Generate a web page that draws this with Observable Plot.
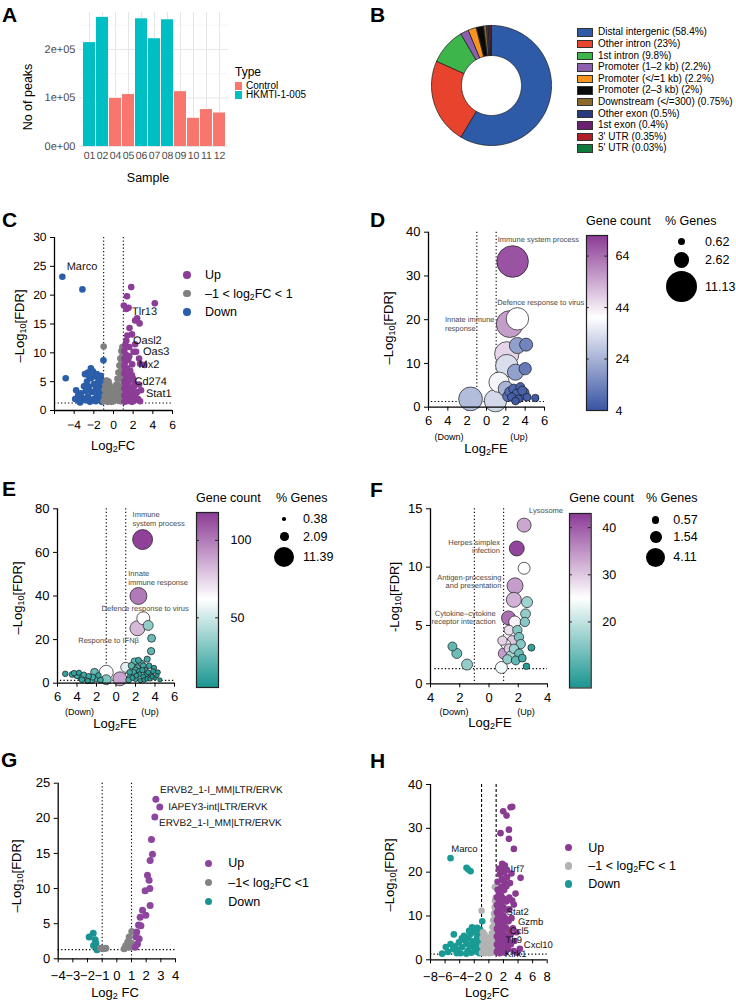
<!DOCTYPE html>
<html><head><meta charset="utf-8">
<script src="https://cdn.jsdelivr.net/npm/d3@7"></script>
<script src="https://cdn.jsdelivr.net/npm/@observablehq/plot@0.6"></script>
<style>body{margin:0;background:#fff}#root{position:relative;width:736px;height:1003px;overflow:hidden;background:#fff;font-family:'Liberation Sans',Arial,Helvetica,sans-serif}svg text{text-rendering:geometricPrecision}</style>
</head><body><div id="root"></div>
<script>
// ---------- DATA ----------
const sampleIds = ["01","02","04","05","06","07","08","09","10","11","12"];
const samplePeaks = [214000,266000,99000,107000,263000,222000,261000,113000,58000,76000,69000];
const sampleType = ["HKMTI-1-005","HKMTI-1-005","Control","Control","HKMTI-1-005","HKMTI-1-005","HKMTI-1-005","Control","Control","Control","Control"];
const typeNames = ["Control","HKMTI-1-005"];
const typeColors = ["#F8766D","#00BFC4"];
const peakTicks = [0,100000,200000];

const featureNames = ["Distal intergenic (58.4%)","Other intron (23%)","1st intron (9.8%)","Promoter (1–2 kb) (2.2%)","Promoter (</=1 kb) (2.2%)","Promoter (2–3 kb) (2%)","Downstream (</=300) (0.75%)","Other exon (0.5%)","1st exon (0.4%)","3' UTR (0.35%)","5' UTR (0.03%)"];
const featurePct = [58.4,23,9.8,2.2,2.2,2,0.75,0.5,0.4,0.35,0.03];
const featureColors = ["#2d5ba8","#e8432d","#3db54a","#8d5fb0","#f7941d","#0a0a0a","#8b6a2b","#283a80","#6b2070","#b01f25","#0f7a3b"];

// C volcano [log2FC, -log10FDR]
const cDown = [[-5.2,23.2],[-3.16,21.0],[-4.86,5.6],[-1.02,8.7],[-3.9,2.0],[-3.8,3.5],[-3.6,2.6],[-3.5,1.6],[-3.3,3.0],[-3.2,2.2],[-3.0,4.2],[-2.9,6.3],[-2.9,1.8],[-2.8,3.4],[-2.7,5.0],[-2.6,6.6],[-2.6,2.4],[-2.5,4.1],[-2.4,1.5],[-2.3,7.3],[-2.3,5.6],[-2.2,3.2],[-2.1,6.8],[-2.0,2.0],[-2.0,4.6],[-1.9,5.9],[-1.8,3.7],[-1.8,1.6],[-1.7,6.3],[-1.7,2.6],[-1.6,4.8],[-1.5,3.1],[-1.5,5.5],[-1.4,1.9],[-1.4,4.1],[-1.3,6.0],[-1.3,2.8],[-1.2,3.5],[-1.2,1.5],[-1.1,5.1],[-1.1,2.3],[-3.4,1.4],[-2.5,6.0]];
const cMid = [[-1.0,11.1],[-1.0,1.6],[-0.9,2.5],[-0.9,3.6],[-0.8,1.8],[-0.8,4.4],[-0.7,2.9],[-0.7,5.2],[-0.6,1.5],[-0.6,3.8],[-0.5,5.0],[-0.5,2.2],[-0.4,4.4],[-0.4,1.7],[-0.3,3.4],[-0.3,2.6],[-0.2,1.5],[-0.2,3.9],[-0.1,2.9],[-0.1,2.0],[0,3.3],[0,1.6],[0.1,2.4],[0.1,4.0],[0.2,1.8],[0.2,3.0],[0.3,4.5],[0.3,2.2],[0.4,5.5],[0.4,3.3],[0.5,6.6],[0.5,2.0],[0.5,4.4],[0.6,7.8],[0.6,5.6],[0.6,3.1],[0.7,9.0],[0.7,6.8],[0.7,4.2],[0.7,1.6],[0.8,10.3],[0.8,8.2],[0.8,5.5],[0.8,2.7],[0.9,11.0],[0.9,9.4],[0.9,7.0],[0.9,4.0],[0.9,1.9],[1.0,10.6],[1.0,8.6],[1.0,6.2],[1.0,3.3]];
const cUp = [[1.8,21.4],[4.2,18.6],[1.37,19.8],[1.05,18.2],[1.53,17.8],[1.3,17.6],[2.4,16.0],[2.2,15.6],[2.65,15.1],[1.63,14.3],[1.88,13.2],[1.3,12.1],[1.2,11.3],[2.04,10.2],[2.3,10.2],[2.7,8.1],[3.13,7.9],[1.88,6.1],[2.2,4.6],[2.4,3.2],[1.1,1.5],[1.1,2.6],[1.1,3.8],[1.1,5.0],[1.1,6.4],[1.1,7.7],[1.1,9.0],[1.1,10.3],[1.2,2.0],[1.2,4.3],[1.2,6.9],[1.2,8.4],[1.3,1.6],[1.3,3.2],[1.3,5.6],[1.3,9.6],[1.4,2.5],[1.4,4.6],[1.4,7.3],[1.5,1.8],[1.5,3.7],[1.5,6.0],[1.5,8.8],[1.6,2.8],[1.6,5.1],[1.7,1.6],[1.7,4.0],[1.7,6.9],[1.8,2.3],[1.9,3.3],[1.9,1.5],[2.0,5.5],[2.0,2.6],[2.1,4.2],[2.2,1.8],[2.3,3.0],[2.5,2.0],[2.6,4.5],[2.8,3.5],[2.7,1.6],[2.6,9.0],[2.2,11.5],[1.6,11.0],[1.4,13.0],[1.9,8.0],[1.6,9.4]];
const cGenes = [[-4.76,25.0,"Marco"],[1.88,17.2,"Tlr13"],[1.98,12.1,"Oasl2"],[3.0,10.3,"Oas3"],[2.55,7.9,"Mx2"],[2.14,5.1,"Cd274"],[3.3,2.9,"Stat1"]];

// D/E/F bubbles [log2FE, -log10FDR, gene count, % genes]
const dBubbles = [[2.7,33.3,68,11.13],[3.2,20.2,40,5.6],[2.4,19.0,56,8.0],[3.2,14.1,20,2.9],[4.1,14.3,14,1.9],[2.1,12.2,47,6.6],[2.1,9.5,33,5.6],[3.0,8.0,20,2.9],[4.0,8.8,12,1.7],[1.3,5.7,38,4.6],[2.0,4.2,24,2.6],[-1.65,1.9,26,6.3],[0.93,1.5,32,5.6],[2.8,4.2,8,1.0],[3.5,4.6,7,0.9],[3.1,3.1,7,0.9],[3.9,3.4,8,1.0],[2.6,2.3,6,0.8],[3.3,1.9,6,0.7],[4.2,2.3,6,0.7],[3.7,3.8,7,0.9],[3.0,1.4,5,0.65],[2.4,3.5,9,1.1],[5.05,2.1,5,0.62],[2.2,2.5,10,1.2],[3.6,2.6,8,1.0]];
const dTerms = [[1.16,38.3,"Immune system process","start"],[1.1,24.0,"Defence response to virus","start"],[-4.3,20.0,"Innate immune","start"],[-4.3,17.9,"response","start"]];
const eBubbles = [[2.73,65.9,116,11.39],[2.3,40,100,8.2],[2.8,29.8,62,4.8],[2.2,25.2,82,6.4],[3.3,26.5,35,2.85],[3.65,20.6,25,1.8],[3.6,14.7,22,1.55],[-1.0,5.0,62,5.6],[-1.0,1.6,30,2.85],[0.4,2.0,88,5.6],[-2.2,5.0,25,1.8],[1.0,7.3,55,2.85],[-5.2,4.3,12,0.9],[-4.5,4.0,14,1.0],[-4.3,4.6,12,0.9],[-4.0,3.5,15,1.1],[-3.8,4.8,10,0.8],[-3.6,2.6,18,1.2],[-3.5,1.6,12,0.9],[-3.3,3.8,14,1.0],[-3.0,2.0,16,1.1],[-2.8,3.2,12,0.9],[-2.9,1.0,10,0.8],[-2.5,1.5,20,1.4],[-2.4,2.8,15,1.1],[-2.0,2.2,18,1.2],[-1.8,3.6,12,0.9],[-1.6,1.5,14,1.0],[1.3,1.5,15,1.0],[1.5,3.0,18,1.2],[1.4,5.0,12,0.9],[1.6,8.0,20,1.3],[1.7,2.5,10,0.8],[1.8,5.0,14,1.0],[1.9,10.0,22,1.4],[2.0,2.0,12,0.9],[2.0,6.0,16,1.1],[2.1,3.5,9,0.7],[2.2,7.0,18,1.2],[2.3,10.5,14,1.0],[2.4,4.0,10,0.8],[2.4,5.5,13,0.9],[2.5,1.2,8,0.6],[2.6,9.0,20,1.3],[2.7,6.0,11,0.8],[2.8,3.0,9,0.7],[2.8,8.0,15,1.0],[2.9,1.5,7,0.6],[3.0,6.0,12,0.9],[3.1,4.0,10,0.8],[3.2,2.0,8,0.6],[3.2,11.0,16,1.1],[3.3,5.0,9,0.7],[3.4,8.0,12,0.9],[3.5,2.0,8,0.6],[3.6,4.0,10,0.8],[3.7,3.0,7,0.55],[3.8,5.5,9,0.7],[3.9,7.0,11,0.8],[4.0,2.5,8,0.6],[4.2,3.5,7,0.55],[4.3,5.0,9,0.7],[4.5,1.5,6,0.5]];
const eTerms = [[1.7,77.4,"Immune","start"],[1.7,73.1,"system process","start"],[1.26,50.2,"Innate","start"],[1.26,46.3,"immune response","start"],[-1.48,34.1,"Defence response to virus","start"],[-3.87,19.6,"Response to IFNβ","start"]];
const fBubbles = [[2.4,13.6,33,2.23],[1.9,11.6,42,2.56],[2.4,9.9,25,1.64],[1.78,8.4,34,2.9],[2.6,7.0,17,1.38],[1.7,7.2,32,2.56],[2.5,6.0,16,1.1],[2.45,5.3,15,1.0],[1.33,5.65,38,2.23],[1.76,5.3,26,1.64],[-2.5,3.2,12,0.92],[-2.2,2.6,13,1.14],[-1.5,1.65,16,1.38],[2.9,3.1,8,0.56],[1.94,4.6,15,1.0],[2.05,4.0,14,1.0],[1.37,4.6,28,1.1],[1.6,3.7,30,1.2],[1.14,3.4,25,1.1],[0.92,3.7,29,1.0],[2.17,3.4,15,1.0],[1.71,3.0,17,1.0],[1.37,3.0,30,1.1],[1.03,2.6,34,1.5],[1.49,2.4,18,1.1],[2.05,2.6,13,0.9],[1.26,2.1,16,1.0],[1.83,2.0,12,0.9],[2.28,2.2,10,0.7],[0.85,1.4,24,1.64],[2.56,1.5,7,0.5]];
const fTerms = [[2.74,14.85,"Lysosome","start"],[0.75,12.1,"Herpes simplex","end"],[0.75,11.4,"infection","end"],[0.85,9.1,"Antigen-processing","end"],[0.85,8.4,"and presentation","end"],[0.46,6.05,"Cytokine–cytokine","end"],[0.46,5.3,"receptor interaction","end"]];

// G volcano
const gUp = [[2.66,22.7],[2.93,21.6],[2.59,20.2],[2.36,17.0],[2.43,14.9],[2.27,14.0],[2.09,11.9],[2.2,11.2],[1.93,9.7],[2.25,10.0],[2.27,7.6],[1.75,6.9],[1.98,6.2],[1.59,5.9],[1.48,4.8],[1.64,4.7],[1.36,3.8],[1.3,3.1],[1.52,2.85],[1.41,2.1],[1.25,1.65]];
const gMid = [[1.02,3.9],[0.84,3.1],[0.74,2.4],[0.61,1.9],[0.84,1.65],[1.0,2.2],[0.5,1.42],[-0.91,1.42],[-0.75,1.5],[-1.1,1.5]];
const gDown = [[-1.61,3.65],[-1.89,3.1],[-1.48,2.7],[-1.59,1.9],[-1.36,1.3],[-1.43,2.2]];
const gGenes = [[2.95,24.0,"ERVB2_1-I_MM|LTR/ERVK"],[3.5,21.6,"IAPEY3-int|LTR/ERVK"],[2.88,19.3,"ERVB2_1-I_MM|LTR/ERVK"]];

// H volcano
const hDown = [[-5.25,23.2],[-3.06,21.0],[-2.83,20.6],[-2.5,20.2],[-4.8,5.8],[-0.9,8.8],[-6.4,1.4],[-5.9,2.9],[-5.6,1.8],[-5.25,3.6],[-4.9,2.4],[-4.6,3.1],[-4.3,2.2],[-4.1,4.0],[-3.9,1.5],[-3.65,2.9],[-3.5,4.6],[-3.4,5.5],[-3.2,4.3],[-3.0,3.6],[-2.9,2.0],[-2.8,5.0],[-2.6,3.1],[-2.5,5.9],[-2.4,1.6],[-2.3,7.4],[-2.2,4.2],[-2.1,2.9],[-2.0,6.4],[-1.9,3.8],[-1.8,7.1],[-1.7,1.9],[-1.6,5.2],[-1.5,3.0],[-1.4,6.2],[-1.3,1.5],[-1.3,4.4],[-1.2,2.4],[-1.1,5.6],[-1.1,3.3],[-1.0,1.7],[-4.4,1.5],[-3.1,1.4],[-2.7,6.6],[-1.6,7.3],[-1.2,6.9],[-3.7,4.9]];
const hMid = [[-1.0,11.2],[0.82,16.6],[-0.95,1.6],[-0.9,3.2],[-0.85,5.0],[-0.8,6.3],[-0.7,2.2],[-0.65,4.3],[-0.6,5.8],[-0.5,1.5],[-0.5,3.4],[-0.4,2.6],[-0.35,5.1],[-0.3,4.0],[-0.2,1.8],[-0.15,3.0],[-0.1,4.6],[0,2.2],[0,3.8],[0.1,1.5],[0.15,5.0],[0.2,3.0],[0.3,2.0],[0.3,4.2],[0.4,6.0],[0.45,3.4],[0.5,7.5],[0.5,1.6],[0.55,5.0],[0.6,9.0],[0.6,2.6],[0.65,6.4],[0.7,10.5],[0.7,4.0],[0.75,8.0],[0.8,12.0],[0.8,2.0],[0.8,5.6],[0.85,13.5],[0.85,9.6],[0.9,11.0],[0.9,7.0],[0.9,3.2],[0.95,14.2],[0.95,4.8],[1.0,12.5],[1.0,8.4],[1.0,1.9]];
const hUp = [[2.98,34.8],[3.2,34.9],[1.97,33.9],[2.43,32.9],[1.6,28.9],[2.75,29.7],[2.75,27.6],[3.43,25.3],[1.83,21.9],[4.35,18.7],[3.66,15.1],[3.43,12.6],[4.25,2.5],[1.1,1.8],[1.1,3.5],[1.1,5.3],[1.1,7.1],[1.1,9.0],[1.1,10.8],[1.1,12.5],[1.1,14.2],[1.2,16.0],[1.2,17.8],[1.3,2.6],[1.3,4.4],[1.3,6.2],[1.3,8.1],[1.3,9.9],[1.3,11.7],[1.4,13.4],[1.4,15.2],[1.5,19.5],[1.5,1.5],[1.5,3.4],[1.6,5.3],[1.6,7.2],[1.6,9.1],[1.6,11.0],[1.7,12.8],[1.7,14.6],[1.7,16.6],[1.8,18.4],[1.8,20.4],[1.8,2.4],[1.9,4.3],[1.9,6.3],[2.0,8.2],[2.0,10.1],[2.0,12.0],[2.0,14.0],[2.1,15.9],[2.1,17.8],[2.1,19.9],[2.2,1.6],[2.2,3.5],[2.3,5.4],[2.3,7.4],[2.3,9.4],[2.4,11.4],[2.4,13.3],[2.4,16.8],[2.5,20.5],[2.5,18.8],[2.6,2.5],[2.6,4.6],[2.7,6.8],[2.7,8.8],[2.8,11.5],[2.8,14.2],[2.9,17.5],[3.0,3.5],[3.0,5.8],[3.1,9.5],[3.1,19.7],[3.3,7.2],[3.4,2.0],[3.5,4.3],[3.8,6.3],[3.9,1.6],[3.2,13.5],[1.4,20.8],[2.2,21.5]];
const hGenes = [[-5.16,25.3,"Marco"],[2.98,20.8,"Irf7"],[2.43,11.0,"Stat2"],[3.98,8.7,"Gzmb"],[2.88,6.6,"Ccl5"],[2.29,4.5,"Tlr9"],[4.8,3.3,"Cxcl10"],[2.19,1.4,"Klrk1"]];

// ---------- HELPERS ----------
const FONT = "'Liberation Sans', Arial, Helvetica, sans-serif";
const root = document.getElementById("root");
function place(node, left, top) {
  const w = document.createElement("div");
  w.style.cssText = `position:absolute;left:${left}px;top:${top}px;`;
  node.style.overflow = "visible";
  w.appendChild(node); root.appendChild(w);
}
function T(x, y, html, o = {}) {
  const d = document.createElement("div");
  d.innerHTML = html;
  const a = o.anchor === "middle" ? "-50%" : o.anchor === "end" ? "-100%" : "0";
  let tr = `translate(${a},-50%)`;
  if (o.rotate) tr = "translate(-50%,-50%) rotate(-90deg)";
  d.style.cssText = `position:absolute;left:${x}px;top:${y}px;font-size:${o.size||12}px;font-weight:${o.bold?"bold":"normal"};color:${o.color||"#000"};white-space:nowrap;line-height:1;transform:${tr};transform-origin:${o.rotate?"50% 50%":"0 0"};`;
  root.appendChild(d);
}
function dotHTML(cx, cy, r, color) {
  const d = document.createElement("div");
  d.style.cssText = `position:absolute;left:${cx-r}px;top:${cy-r}px;width:${2*r}px;height:${2*r}px;border-radius:50%;background:${color};`;
  root.appendChild(d);
}
const sub = s => `<sub style="font-size:0.7em;vertical-align:-0.3em;line-height:0">${s}</sub>`;
const baseStyle = (fs) => ({fontFamily: FONT, fontSize: fs + "px", color: "#000", background: "transparent", overflow: "visible"});
const dotted = "1.3,2.2";

function volcano(c) {
  const svg = Plot.plot({
    width: c.w, height: c.h, marginLeft: c.ml, marginRight: c.mr, marginTop: c.mt, marginBottom: c.mb,
    style: baseStyle(c.fs),
    x: {domain: c.xDomain, ticks: c.xTicks, tickFormat: c.xFormat || (d => d < 0 ? "−" + Math.abs(d) : d), tickSize: 4, tickPadding: c.xPad, label: null},
    y: {domain: c.yDomain, ticks: c.yTicks, tickSize: 4, tickPadding: 4, label: null},
    marks: [
      Plot.ruleX([-1, 1], {stroke: "#000", strokeWidth: 1.1, strokeDasharray: c.vDash || dotted}),
      Plot.ruleY([1.3], {stroke: "#000", strokeWidth: 1.1, strokeDasharray: dotted}),
      ...c.groups.map(g => Plot.dot(g.data, {x: d => d[0], y: d => d[1], r: c.r, fill: g.color})),
      Plot.text(c.labels, {x: d => d[0], y: d => d[1], text: d => d[2], textAnchor: "start", fontSize: c.labelSize, fill: "#111"}),
      Plot.ruleX([c.xDomain[0]], {stroke: "#000", strokeWidth: 1.3}),
      Plot.ruleY([c.yDomain[0]], {stroke: "#000", strokeWidth: 1.3})
    ]
  });
  place(svg, c.left, c.top);
}

function bubble(c) {
  const svg = Plot.plot({
    width: c.w, height: c.h, marginLeft: c.ml, marginRight: c.mr, marginTop: c.mt, marginBottom: c.mb,
    style: baseStyle(13),
    x: {domain: c.xDomain, ticks: c.xTicks, tickFormat: d => Math.abs(d), tickSize: 4, tickPadding: 5, label: null},
    y: {domain: c.yDomain, ticks: c.yTicks, tickSize: 4, tickPadding: 4, label: null},
    r: {type: "sqrt", domain: [0, c.rMax], range: [0, c.R]},
    color: {type: "linear", domain: c.cDomain, range: c.cRange},
    marks: [
      Plot.ruleX([-1, 1], {stroke: "#000", strokeWidth: 1.1, strokeDasharray: dotted}),
      Plot.ruleY([1.3], {x1: c.xDomain[0] + 0.3, x2: c.xDomain[1], stroke: "#000", strokeWidth: 1.1, strokeDasharray: dotted}),
      Plot.dot(c.data, {x: d => d[0], y: d => d[1], r: d => d[3], fill: d => d[2], stroke: "#1a1a1a", strokeWidth: 0.7}),
      Plot.text(c.terms.filter(d => d[3] === "start"), {x: d => d[0], y: d => d[1], text: d => d[2], textAnchor: "start", fontSize: 7.5, fill: "#4a4a4a"}),
      Plot.text(c.terms.filter(d => d[3] === "end"), {x: d => d[0], y: d => d[1], text: d => d[2], textAnchor: "end", fontSize: 7.5, fill: "#4a4a4a"}),
      Plot.ruleX([c.xDomain[0]], {stroke: "#000", strokeWidth: 1.3}),
      Plot.ruleY([0], {stroke: "#000", strokeWidth: 1.3})
    ]
  });
  place(svg, c.left, c.top);
  // colorbar
  const [lo, hi] = [c.cDomain[0], c.cDomain[2]];
  const step = (hi - lo) / 140;
  const stops = d3.range(lo, hi, step);
  const cb = Plot.plot({
    width: c.cb.w + 40, height: c.cb.h + 20, marginLeft: 0, marginRight: 40, marginTop: 10, marginBottom: 10,
    style: baseStyle(12.5),
    x: {domain: [0, 1], axis: null},
    y: {domain: [lo, hi], axis: null},
    color: {type: "linear", domain: c.cDomain, range: c.cRange},
    marks: [
      Plot.rect(stops, {x1: 0, x2: 1, y1: d => d, y2: d => Math.min(d + step * 1.6, hi), fill: d => d + step / 2}),
      Plot.frame({stroke: "#222", strokeWidth: 1.2}),
      Plot.ruleY(c.cb.ticks, {x1: 0, x2: 0.13, stroke: "#222"}),
      Plot.ruleY(c.cb.ticks, {x1: 0.87, x2: 1, stroke: "#222"}),
      Plot.text(c.cb.ticks, {x: 1, y: d => d, text: d => d, dx: c.cb.dx, textAnchor: "start", fontSize: 12.5})
    ]
  });
  place(cb, c.cb.x, c.cb.y - 10);
  T(c.cb.x, c.cb.titleY, "Gene count", {size: 12.5});
  // size legend
  T(c.sz.x, c.cb.titleY, "% Genes", {size: 12.5});
  c.sz.vals.forEach((v, i) => {
    const r = c.R * Math.sqrt(v / c.rMax);
    dotHTML(c.sz.cx, c.sz.ys[i], r, "#000");
    T(c.sz.lx, c.sz.ys[i], String(v), {size: 12.5});
  });
}

// ---------- PANEL A ----------
const peakTable = sampleIds.map((s, i) => ({sample: s, peaks: samplePeaks[i], type: sampleType[i]}));
const fmtSci = d => d === 0 ? "0e+00" : (d / 1e5) + "e+05";
const plotA = Plot.plot({
  width: 232, height: 170, marginLeft: 79, marginRight: 4, marginTop: 12, marginBottom: 24,
  style: {...baseStyle(11), color: "#4d4d4d"},
  x: {domain: sampleIds, padding: 0.1, axis: null},
  y: {domain: [0, 276000], ticks: peakTicks, tickFormat: fmtSci, tickSize: 0, tickPadding: 4, label: null},
  color: {domain: typeNames, range: typeColors},
  marks: [
    Plot.ruleY([50000, 150000, 250000], {stroke: "#f2f2f2", strokeWidth: 0.7}),
    Plot.ruleY(peakTicks, {stroke: "#e6e6e6", strokeWidth: 1}),
    Plot.ruleX(sampleIds, {x: d => d, stroke: "#e6e6e6", strokeWidth: 1}),
    Plot.barY(peakTable, {x: "sample", y: "peaks", fill: "type"}),
    Plot.text(sampleIds, {x: d => d, frameAnchor: "bottom", dy: 12, fontSize: 10.5, fill: "#4d4d4d"})
  ]
});
place(plotA, 0, 0);
T(2, 13.5, "A", {size: 21, bold: true});
T(28, 97, "No of peaks", {rotate: true, size: 12.5});
T(148, 178, "Sample", {anchor: "middle", size: 12.5});
T(235, 72, "Type", {size: 12});
typeNames.forEach((t, i) => {
  const y = 86 + i * 9;
  const s = document.createElement("div");
  s.style.cssText = `position:absolute;left:235px;top:${y-4}px;width:6.5px;height:8px;background:${typeColors[i]};`;
  root.appendChild(s);
  T(246, y, t, {size: 10});
});

// ---------- PANEL B (donut) ----------
const arcs = d3.pie().sort(null).value(d => d)(featurePct);
const slices = arcs.map((a, i) => {
  const n = Math.max(3, Math.ceil((a.endAngle - a.startAngle) / 0.02));
  const pts = [];
  for (let k = 0; k <= n; k++) { const t = a.startAngle + (a.endAngle - a.startAngle) * k / n; pts.push({x: Math.sin(t), y: Math.cos(t)}); }
  for (let k = n; k >= 0; k--) { const t = a.startAngle + (a.endAngle - a.startAngle) * k / n; pts.push({x: 0.5 * Math.sin(t), y: 0.5 * Math.cos(t)}); }
  return {pts, color: featureColors[i]};
});
const plotB = Plot.plot({
  width: 122, height: 122, margin: 1,
  style: baseStyle(10),
  x: {domain: [-1, 1], axis: null},
  y: {domain: [-1, 1], axis: null},
  marks: slices.map(s => Plot.line(s.pts, {x: "x", y: "y", fill: s.color, stroke: "#222", strokeWidth: 0.8, curve: "linear-closed"}))
});
place(plotB, 430, 24);
T(370, 13.5, "B", {size: 21, bold: true});
featureNames.forEach((f, i) => {
  const y = 32.3 + i * 11.6;
  const s = document.createElement("div");
  s.style.cssText = `position:absolute;left:577px;top:${y-4}px;width:14px;height:6.5px;background:${featureColors[i]};border:1px solid #333;`;
  root.appendChild(s);
  T(598, y, f.replace(/</g, "&lt;"), {size: 10});
});

// ---------- PANEL C ----------
volcano({left: 0, top: 225, w: 190, h: 210, ml: 54, mr: 18, mt: 12, mb: 25, fs: 12, xPad: 6,
  xDomain: [-6, 6], xTicks: [-6, -4, -2, 0, 2, 4, 6], xFormat: d => d === -6 ? "" : (d < 0 ? "−" + Math.abs(d) : d),
  yDomain: [0, 30], yTicks: [0, 5, 10, 15, 20, 25, 30], r: 3.3, labelSize: 11,
  groups: [{data: cDown, color: "#2b5eaa"}, {data: cMid, color: "#808080"}, {data: cUp, color: "#8c3d97"}], labels: cGenes});
T(2, 219, "C", {size: 21, bold: true});
T(19, 326, "–Log" + sub("10") + "[FDR]", {rotate: true, size: 13});
T(113, 445, "Log" + sub("2") + "FC", {anchor: "middle", size: 13});
[["Up", "#8c3d97"], ["–1 &lt; log" + sub("2") + "FC &lt; 1", "#808080"], ["Down", "#2b5eaa"]].forEach(([t, c], i) => {
  const y = [275, 293.5, 312][i];
  dotHTML(187, y, 3.7, c); T(205, y, t, {size: 12.5});
});

// ---------- PANEL D ----------
bubble({left: 360, top: 220, w: 200, h: 215, ml: 68, mr: 16, mt: 11.7, mb: 28.3,
  xDomain: [-6, 6], xTicks: [-6, -4, -2, 0, 2, 4, 6], yDomain: [0, 40], yTicks: [0, 10, 20, 30, 40],
  rMax: 11.13, R: 15.8, cDomain: [4, 40, 72], cRange: ["#3a55a4", "#ffffff", "#8b3a95"],
  data: dBubbles, terms: dTerms,
  cb: {x: 586, y: 235, w: 21, h: 175, ticks: [64, 44, 24, 4], dx: 8, titleY: 221},
  sz: {x: 665, cx: 681.7, lx: 705, vals: [0.62, 2.62, 11.13], ys: [241.7, 260, 286.7]}});
T(370, 219, "D", {size: 21, bold: true});
T(388, 327.5, "–Log" + sub("10") + "[FDR]", {rotate: true, size: 13});
T(486, 447.5, "Log" + sub("2") + "FE", {anchor: "middle", size: 13});
T(449, 436.5, "(Down)", {anchor: "middle", size: 9});
T(519, 436.5, "(Up)", {anchor: "middle", size: 9});

// ---------- PANEL E ----------
bubble({left: 0, top: 495, w: 190, h: 215, ml: 57, mr: 16, mt: 13.3, mb: 27.3,
  xDomain: [-6, 6], xTicks: [-6, -4, -2, 0, 2, 4, 6], yDomain: [0, 80], yTicks: [0, 20, 40, 60, 80],
  rMax: 11.39, R: 10, cDomain: [5, 62, 118], cRange: ["#1a9690", "#ffffff", "#8b3a95"],
  data: eBubbles, terms: eTerms,
  cb: {x: 196, y: 512, w: 22, h: 175, ticks: [100, 50], dx: 12, titleY: 497.5},
  sz: {x: 276, cx: 284.3, lx: 303, vals: [0.38, 2.09, 11.39], ys: [519, 536.7, 556.7]}});
T(2, 487.5, "E", {size: 21, bold: true});
T(17, 598, "–Log" + sub("10") + "[FDR]", {rotate: true, size: 13});
T(115, 723.3, "Log" + sub("2") + "FE", {anchor: "middle", size: 13});
T(79.5, 712.3, "(Down)", {anchor: "middle", size: 9});
T(150, 712.3, "(Up)", {anchor: "middle", size: 9});

// ---------- PANEL F ----------
bubble({left: 360, top: 495, w: 200, h: 215, ml: 70, mr: 13, mt: 13.3, mb: 26.7,
  xDomain: [-4, 4], xTicks: [-4, -2, 0, 2, 4], yDomain: [0, 15], yTicks: [0, 5, 10, 15],
  rMax: 4.11, R: 9.5, cDomain: [6, 25, 43], cRange: ["#1a9690", "#ffffff", "#8b3a95"],
  data: fBubbles, terms: fTerms,
  cb: {x: 569.3, y: 512.7, w: 21.7, h: 174.5, ticks: [40, 30, 20], dx: 11, titleY: 498.3},
  sz: {x: 646, cx: 655.7, lx: 673.3, vals: [0.57, 1.54, 4.11], ys: [520, 536.7, 557.3]}});
T(370, 489, "F", {size: 21, bold: true});
T(394, 596.5, "-Log" + sub("10") + "[FDR]", {rotate: true, size: 13});
T(490, 721.7, "Log" + sub("2") + "FE", {anchor: "middle", size: 13});
T(454, 711.7, "(Down)", {anchor: "middle", size: 9});
T(526, 711.7, "(Up)", {anchor: "middle", size: 9});

// ---------- PANEL G ----------
volcano({left: 0, top: 770, w: 300, h: 230, ml: 57.7, mr: 125, mt: 12.7, mb: 41.7, fs: 13, xPad: 8,
  xDomain: [-4, 4], xTicks: [-4, -3, -2, -1, 0, 1, 2, 3, 4],
  yDomain: [0, 25], yTicks: [0, 5, 10, 15, 20, 25], r: 3.5, labelSize: 10,
  groups: [{data: gDown, color: "#1b9292"}, {data: gMid, color: "#838383"}, {data: gUp, color: "#8d45a0"}], labels: gGenes});
T(1, 759, "G", {size: 21, bold: true});
T(16, 876, "–Log" + sub("10") + "[FDR]", {rotate: true, size: 13});
T(115, 991.7, "Log" + sub("2") + " FC", {anchor: "middle", size: 13});
[["Up", "#8d45a0"], ["–1&lt; log" + sub("2") + "FC &lt;1", "#838383"], ["Down", "#1b9292"]].forEach(([t, c], i) => {
  const y = [863.3, 882.7, 901.7][i];
  dotHTML(208.3, y, 3.7, c); T(228.3, y, t, {size: 12.5});
});

// ---------- PANEL H ----------
volcano({left: 360, top: 770, w: 200, h: 225, ml: 70, mr: 13.3, mt: 14, mb: 35.7, fs: 13, xPad: 8,
  xDomain: [-8, 8], xTicks: [-8, -6, -4, -2, 0, 2, 4, 6, 8],
  yDomain: [0, 40], yTicks: [0, 10, 20, 30, 40], r: 3.3, labelSize: 9.5, vDash: "3,2",
  groups: [{data: hDown, color: "#1a9a94"}, {data: hMid, color: "#b3b3b3"}, {data: hUp, color: "#8a3a91"}], labels: hGenes});
T(370, 760, "H", {size: 21, bold: true});
T(388.5, 875, "–Log" + sub("10") + "[FDR]", {rotate: true, size: 13});
T(487, 991.7, "Log" + sub("2") + "FC", {anchor: "middle", size: 13});
[["Up", "#8a3a91"], ["–1 &lt; log" + sub("2") + "FC &lt; 1", "#b3b3b3"], ["Down", "#1a9a94"]].forEach(([t, c], i) => {
  const y = [847.7, 866, 884][i];
  dotHTML(568.3, y, 3.7, c); T(588.3, y, t, {size: 12.5});
});
</script></body></html>
